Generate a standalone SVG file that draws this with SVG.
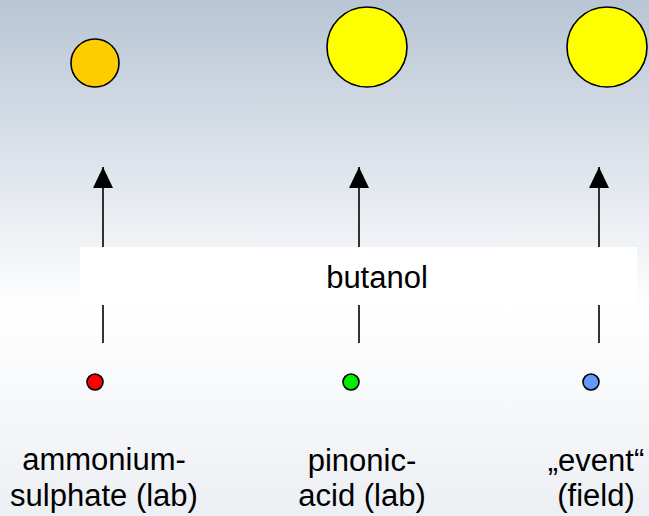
<svg xmlns="http://www.w3.org/2000/svg" width="649" height="516" viewBox="0 0 649 516">
  <defs>
    <linearGradient id="bg" x1="0" y1="0" x2="0" y2="1">
      <stop offset="0" stop-color="#b8c5d4"/>
      <stop offset="0.6" stop-color="#ffffff"/>
      <stop offset="1" stop-color="#eceff3"/>
    </linearGradient>
    <marker id="arr" markerWidth="21" markerHeight="20" refX="21" refY="10" orient="auto" markerUnits="userSpaceOnUse" viewBox="0 0 21 20">
      <path d="M0,0 L21,10 L0,20 Z" fill="#000"/>
    </marker>
    <style>
      .lbl { font-family: "Liberation Sans", Arial, sans-serif; font-size: 31px; fill: #000; text-anchor: middle; }
      .con { stroke: #000; stroke-width: 1.6; fill: none; }
      .node { stroke: #000; stroke-width: 1.6; }
    </style>
  </defs>
  <rect x="0" y="0" width="649" height="516" fill="url(#bg)"/>

  <g id="connectors">
    <line class="con" x1="103" y1="343" x2="103" y2="167" marker-end="url(#arr)"/>
    <line class="con" x1="359" y1="343" x2="359" y2="167" marker-end="url(#arr)"/>
    <line class="con" x1="599" y1="343" x2="599" y2="167" marker-end="url(#arr)"/>
  </g>

  <g id="butanol">
    <rect x="80" y="247" width="557" height="58" fill="#ffffff"/>
    <text class="lbl" x="377" y="288">butanol</text>
  </g>

  <g id="result-ammonium">
    <circle class="node" cx="95" cy="63" r="24" fill="#ffcc00"/>
  </g>
  <g id="result-pinonic">
    <circle class="node" cx="367" cy="47" r="40" fill="#ffff00"/>
  </g>
  <g id="result-event">
    <circle class="node" cx="607" cy="47" r="40" fill="#ffff00"/>
  </g>

  <g id="ammonium">
    <circle class="node" cx="95" cy="382" r="8" fill="#ff0000"/>
    <text class="lbl" x="104" y="470">ammonium-</text>
    <text class="lbl" x="104" y="506">sulphate (lab)</text>
  </g>
  <g id="pinonic">
    <circle class="node" cx="351" cy="382" r="8" fill="#00ee00"/>
    <text class="lbl" x="362" y="471">pinonic-</text>
    <text class="lbl" x="362" y="506">acid (lab)</text>
  </g>
  <g id="event">
    <circle class="node" cx="591" cy="382" r="8" fill="#6699ff"/>
    <text class="lbl" x="596" y="471">„event“</text>
    <text class="lbl" x="596" y="506">(field)</text>
  </g>
</svg>
